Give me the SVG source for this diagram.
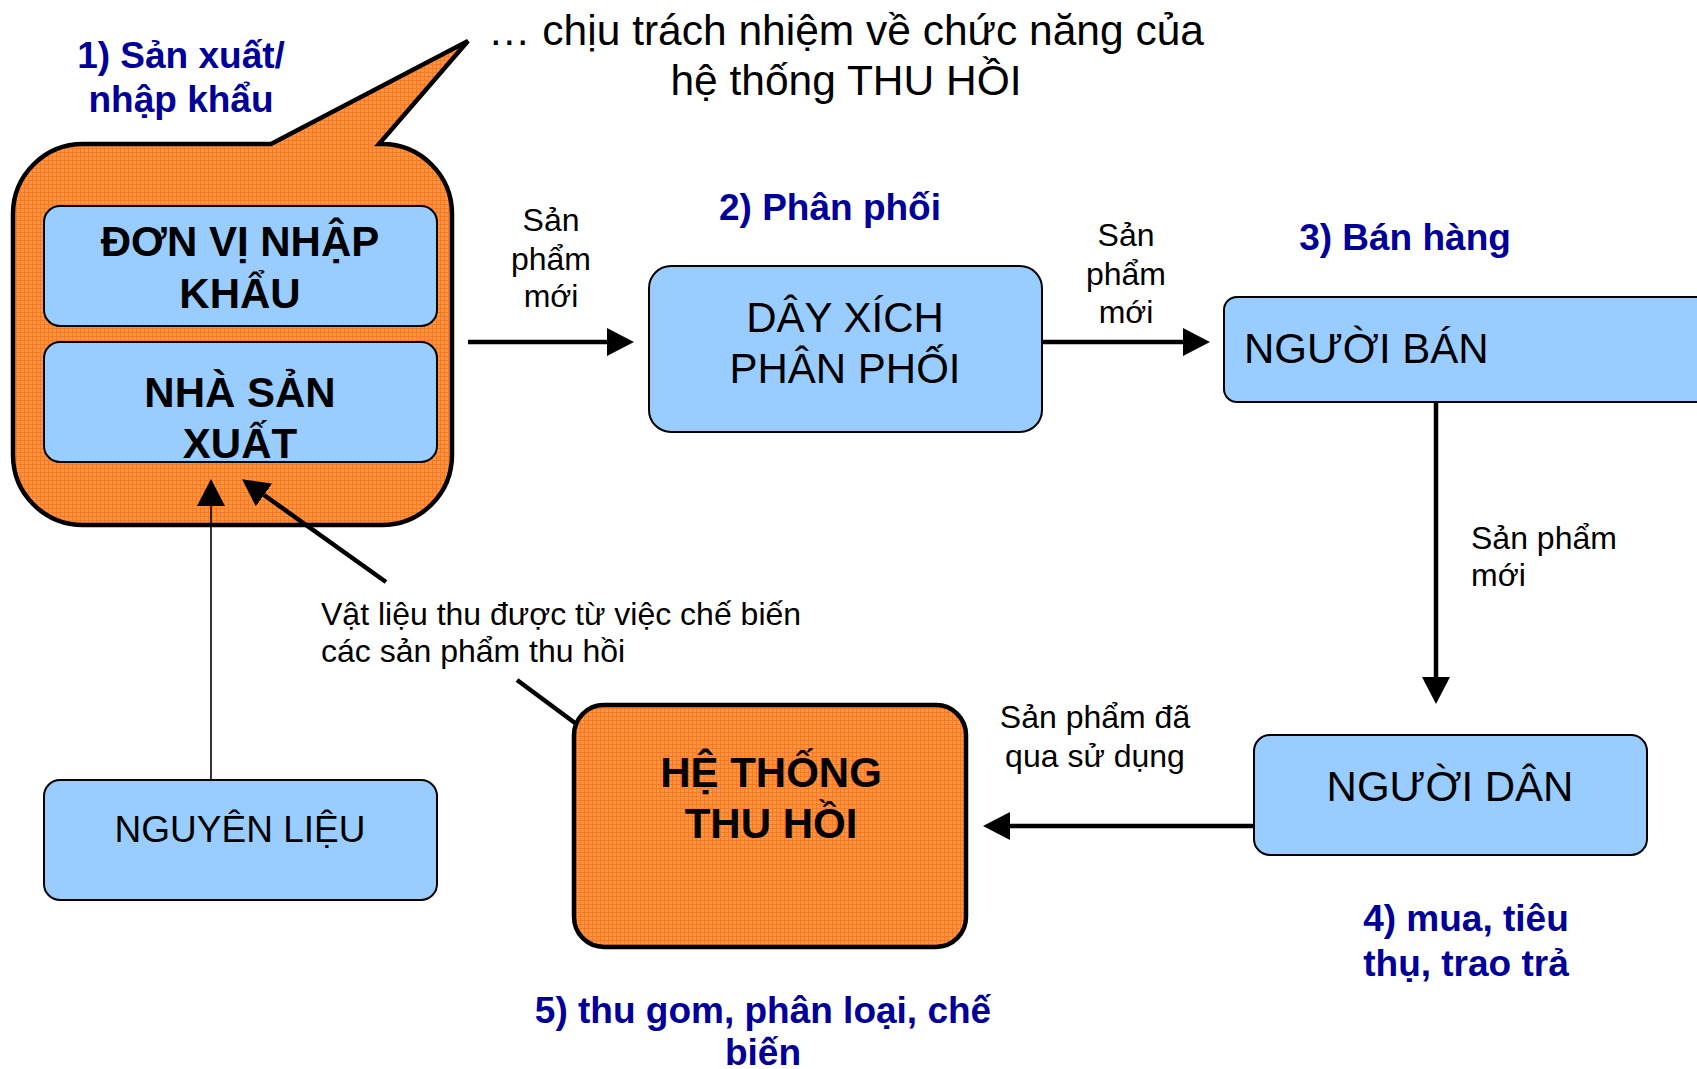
<svg xmlns="http://www.w3.org/2000/svg" width="1697" height="1069" viewBox="0 0 1697 1069">
<defs>
  <pattern id="orangeGrid" patternUnits="userSpaceOnUse" width="4" height="4">
    <rect width="4" height="4" fill="#FF9444"/>
    <path d="M0,0.5 H4 M0.5,0 V4" stroke="#F57A22" stroke-width="1"/>
  </pattern>
  <marker id="ah" markerUnits="userSpaceOnUse" markerWidth="27" markerHeight="28" refX="0" refY="14" orient="auto">
    <path d="M0,0 L27,14 L0,28 Z" fill="#000"/>
  </marker>
  <style>
    .blue { fill:#99CCFF; stroke:#000; stroke-width:2; }
    .orange { fill:url(#orangeGrid); stroke:#000; stroke-width:4.5; }
    .t { font-family:"Liberation Sans", Arial, sans-serif; fill:#000; }
    .bold { font-weight:bold; }
    .step { font-family:"Liberation Sans", Arial, sans-serif; font-weight:bold; fill:#000099; font-size:37px; }
    .lbl { font-size:32px; }
    .node { font-size:42px; }
    .conn { stroke:#000; stroke-width:4.5; fill:none; }
  </style>
</defs>
<rect width="1697" height="1069" fill="#fff"/>

<g id="callout">
  <path class="orange" d="M83,144 L271,144 L468,41 L379,144 L382,144 A70,70 0 0 1 452,214 L452,455 A70,70 0 0 1 382,525 L83,525 A70,70 0 0 1 13,455 L13,214 A70,70 0 0 1 83,144 Z"/>
</g>

<g id="node-don-vi">
  <rect class="blue" x="44" y="206" width="393" height="120" rx="16"/>
  <text class="t bold node" text-anchor="middle" x="240" y="256">ĐƠN VỊ NHẬP</text>
  <text class="t bold node" text-anchor="middle" x="240" y="308">KHẨU</text>
</g>
<g id="node-nha-san-xuat">
  <rect class="blue" x="44" y="342" width="393" height="120" rx="16"/>
  <text class="t bold node" text-anchor="middle" x="240" y="407">NHÀ SẢN</text>
  <text class="t bold node" text-anchor="middle" x="240" y="458">XUẤT</text>
</g>

<g id="node-day-xich">
  <rect class="blue" x="649" y="266" width="393" height="166" rx="22"/>
  <text class="t node" text-anchor="middle" x="845" y="332">DÂY XÍCH</text>
  <text class="t node" text-anchor="middle" x="845" y="383">PHÂN PHỐI</text>
</g>

<g id="node-nguoi-ban">
  <rect class="blue" x="1224" y="297" width="500" height="105" rx="13"/>
  <text class="t node" x="1244" y="363">NGƯỜI BÁN</text>
</g>

<g id="node-nguoi-dan">
  <rect class="blue" x="1254" y="735" width="393" height="120" rx="16"/>
  <text class="t node" text-anchor="middle" x="1450" y="801">NGƯỜI DÂN</text>
</g>

<g id="node-he-thong">
  <rect class="orange" x="574" y="705" width="392" height="242" rx="30"/>
  <text class="t bold node" text-anchor="middle" x="771" y="787">HỆ THỐNG</text>
  <text class="t bold node" text-anchor="middle" x="771" y="838">THU HỒI</text>
</g>

<g id="node-nguyen-lieu">
  <rect class="blue" x="44" y="780" width="393" height="120" rx="16"/>
  <text class="t" font-size="37" text-anchor="middle" x="240" y="842">NGUYÊN LIỆU</text>
</g>

<g id="connectors">
  <line class="conn" x1="468" y1="342" x2="607" y2="342" marker-end="url(#ah)"/>
  <line class="conn" x1="1042" y1="342" x2="1183" y2="342" marker-end="url(#ah)"/>
  <line class="conn" x1="1436" y1="402" x2="1436" y2="677" marker-end="url(#ah)"/>
  <line class="conn" x1="1254" y1="826" x2="1010" y2="826" marker-end="url(#ah)"/>
  <line stroke="#000" stroke-width="1.6" x1="211" y1="780" x2="211" y2="506" marker-end="url(#ah)"/>
  <line class="conn" x1="386" y1="582" x2="264" y2="495" marker-end="url(#ah)"/>
  <line class="conn" x1="517" y1="680" x2="575" y2="723"/>
</g>

<g id="labels">
  <text class="t" font-size="42.5" text-anchor="middle" x="846" y="45">… chịu trách nhiệm về chức năng của</text>
  <text class="t" font-size="42.5" text-anchor="middle" x="846" y="95">hệ thống THU HỒI</text>

  <text class="step" text-anchor="middle" x="181" y="68">1) Sản xuất/</text>
  <text class="step" text-anchor="middle" x="181" y="112">nhập khẩu</text>
  <text class="step" text-anchor="middle" x="830" y="220">2) Phân phối</text>
  <text class="step" text-anchor="middle" x="1405" y="250">3) Bán hàng</text>
  <text class="step" text-anchor="middle" x="1466" y="931">4) mua, tiêu</text>
  <text class="step" text-anchor="middle" x="1466" y="976">thụ, trao trả</text>
  <text class="step" text-anchor="middle" x="763" y="1023">5) thu gom, phân loại, chế</text>
  <text class="step" text-anchor="middle" x="763" y="1065">biến</text>

  <text class="t lbl" text-anchor="middle" x="551" y="231">Sản</text>
  <text class="t lbl" text-anchor="middle" x="551" y="270">phẩm</text>
  <text class="t lbl" text-anchor="middle" x="551" y="307">mới</text>

  <text class="t lbl" text-anchor="middle" x="1126" y="246">Sản</text>
  <text class="t lbl" text-anchor="middle" x="1126" y="285">phẩm</text>
  <text class="t lbl" text-anchor="middle" x="1126" y="323">mới</text>

  <text class="t lbl" x="1471" y="549">Sản phẩm</text>
  <text class="t lbl" x="1471" y="586">mới</text>

  <text class="t lbl" text-anchor="middle" x="1095" y="728">Sản phẩm đã</text>
  <text class="t lbl" text-anchor="middle" x="1095" y="767">qua sử dụng</text>

  <text class="t lbl" x="321" y="625">Vật liệu thu được từ việc chế biến</text>
  <text class="t lbl" x="321" y="662">các sản phẩm thu hồi</text>
</g>
</svg>
